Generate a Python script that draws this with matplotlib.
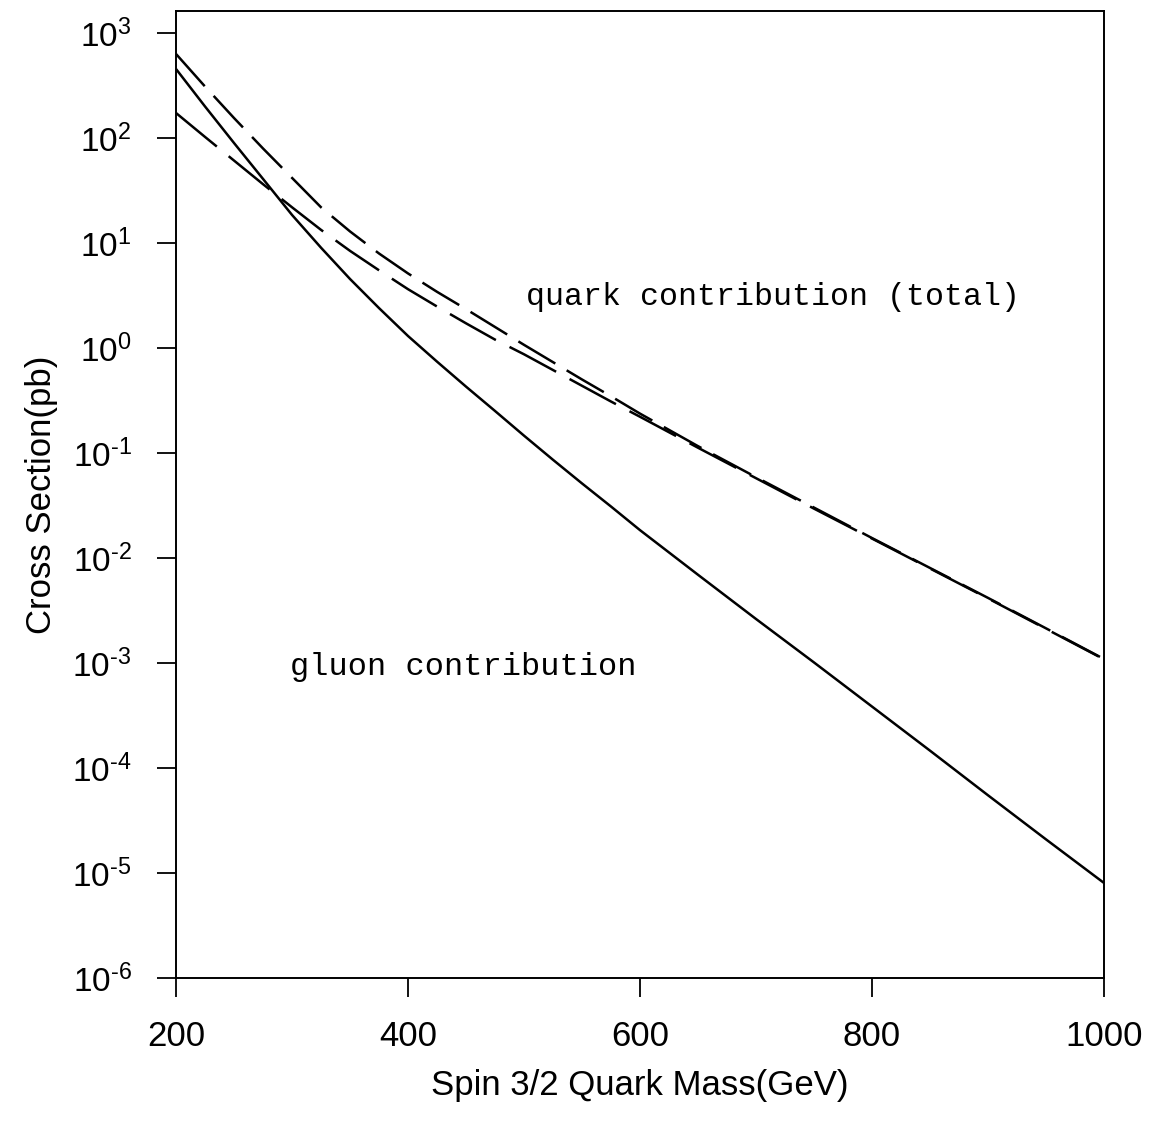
import numpy as np
import matplotlib
matplotlib.use('Agg')
import matplotlib.pyplot as plt
from matplotlib.ticker import FixedLocator, FuncFormatter, NullLocator

plt.rcParams['font.family'] = ['Liberation Sans', 'DejaVu Sans']
plt.rcParams['mathtext.fontset'] = 'custom'
plt.rcParams['mathtext.rm'] = 'Liberation Sans'
plt.rcParams['mathtext.default'] = 'regular'
plt.rcParams['axes.unicode_minus'] = False
plt.rcParams['lines.scale_dashes'] = False

# spin 3/2 quark pair production, log10 of cross section in pb
mass = np.array([200, 225, 250, 275, 300, 325, 350, 375, 400, 425, 450, 475,
                 500, 525, 550, 575, 600, 650, 700, 750, 800, 850, 900, 950, 1000])
log_gluon = np.array([2.657, 2.30, 1.952, 1.61, 1.267, 0.955, 0.657, 0.38, 0.114,
                      -0.13, -0.368, -0.60, -0.835, -1.065, -1.29, -1.51, -1.735,
                      -2.16, -2.581, -2.995, -3.415, -3.835, -4.26, -4.68, -5.095])
log_total = np.array([2.80, 2.49, 2.19, 1.90, 1.62, 1.34, 1.11, 0.90, 0.71,
                      0.535, 0.37, 0.20, 0.03, -0.135, -0.30, -0.46, -0.625,
                      -0.935, -1.23, -1.52, -1.81, -2.095, -2.38, -2.67, -2.962])
log_quark = np.array([2.238, 2.01, 1.785, 1.56, 1.34, 1.125, 0.925, 0.74, 0.56,
                      0.395, 0.235, 0.08, -0.06, -0.21, -0.36, -0.51, -0.655,
                      -0.95, -1.24, -1.53, -1.815, -2.10, -2.385, -2.675, -2.965])

gluon = 10.0**log_gluon
total = 10.0**log_total
quark = 10.0**log_quark

decades = np.arange(-6, 4)


def exp_label(v, pos):
    e = int(round(np.log10(v)))
    if e < 0:
        return r'$\mathdefault{10^{\text{-}%d}}$' % (-e)
    return r'$\mathdefault{10^{%d}}$' % e


fig = plt.figure(figsize=(11.53, 11.31), dpi=100)
ax = fig.add_axes([0.1527, 0.1353, 0.8048, 0.855])

ax.plot(mass, gluon, color='black', lw=1.8, solid_capstyle='butt')
ax.plot(mass, total, color='black', lw=1.8, dashes=(31, 9.5), dash_capstyle='butt')
ax.plot(mass, quark, color='black', lw=1.8, dashes=(38, 11), dash_capstyle='butt')

ax.set_yscale('log')
ax.set_xlim(200, 1000)
ax.set_ylim(1e-6, 10**3.21)
ax.set_xticks([200, 400, 600, 800, 1000])
ax.yaxis.set_major_locator(FixedLocator(10.0**decades))
ax.yaxis.set_major_formatter(FuncFormatter(exp_label))
ax.yaxis.set_minor_locator(NullLocator())
ax.xaxis.set_minor_locator(NullLocator())

ax.tick_params(axis='x', direction='out', length=14, width=1.3, pad=16,
               labelsize=25, top=False)
ax.tick_params(axis='y', direction='out', length=14, width=1.3, pad=18,
               labelsize=24, right=False)
for sp in ax.spines.values():
    sp.set_linewidth(1.4)

ax.set_xlabel('Spin 3/2 Quark Mass(GeV)', fontsize=25, labelpad=12)
ax.set_ylabel('Cross Section(pb)', fontsize=25, labelpad=10)

ax.text(502, 2.57, 'quark contribution (total)', family='Liberation Mono',
        fontsize=22.8, ha='left', va='baseline')
ax.text(298, 7.7e-4, 'gluon contribution', family='Liberation Mono',
        fontsize=23, ha='left', va='baseline')

fig.savefig('out.png', dpi=100)
